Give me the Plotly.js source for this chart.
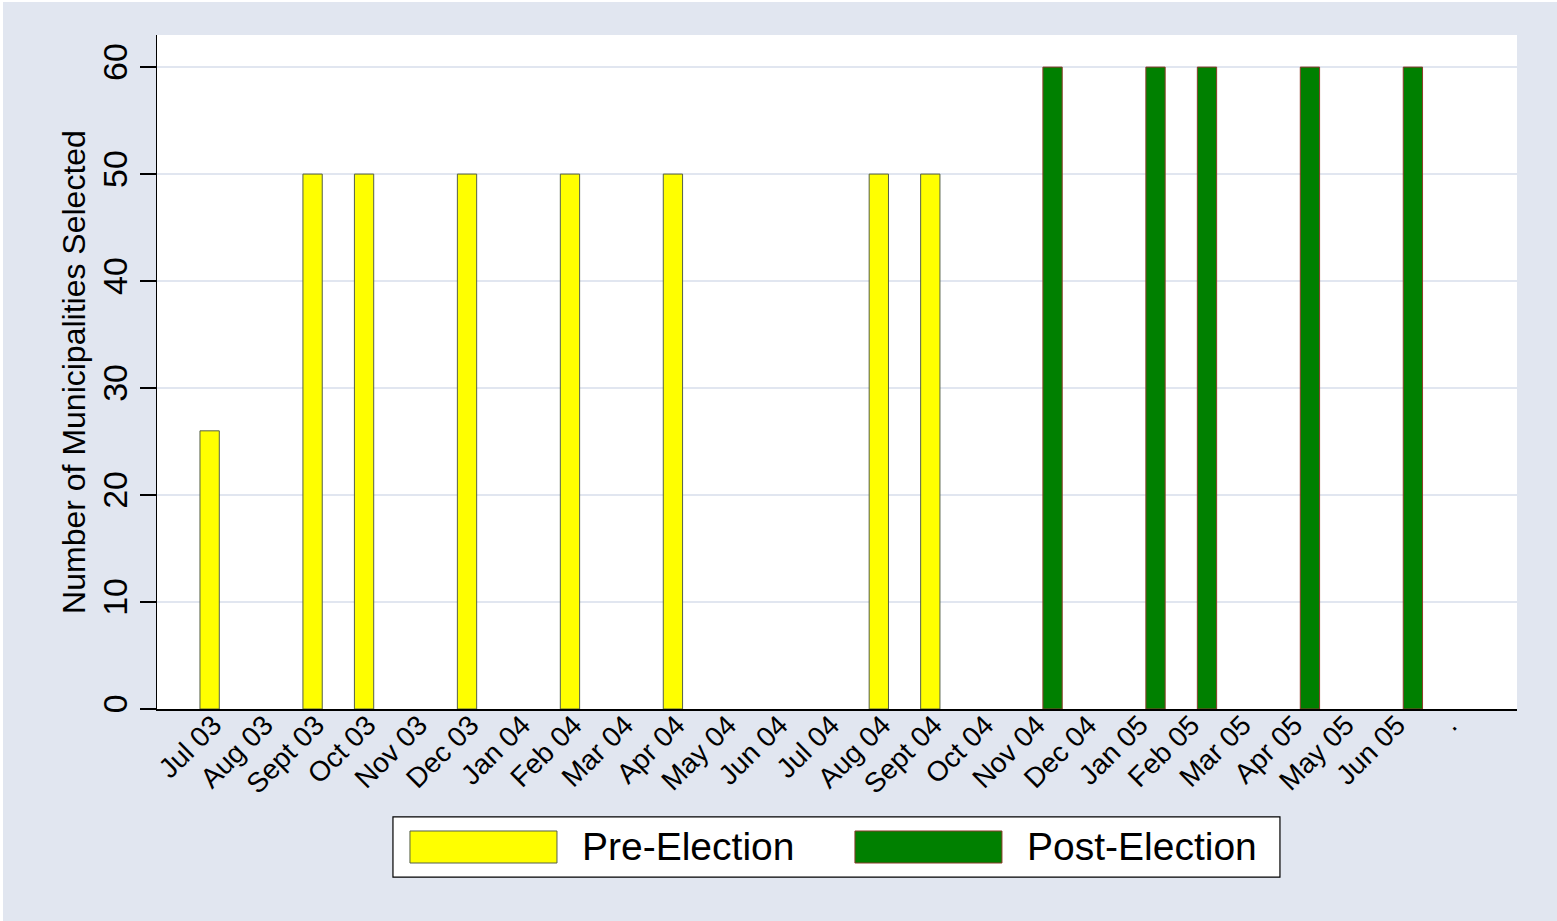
<!DOCTYPE html>
<html>
<head>
<meta charset="utf-8">
<script src="https://cdn.plot.ly/plotly-3.0.1.min.js"></script>
<style>
  html, body { margin: 0; padding: 0; background: #ffffff; width: 1557px; height: 921px; overflow: hidden; }
  #chart { position: absolute; left: 3px; top: 2px; width: 1554px; height: 919px; }
</style>
</head>
<body>
<div id="chart"></div>
<script>
// ---- data ----
const months = ["Jul 03","Aug 03","Sept 03","Oct 03","Nov 03","Dec 03","Jan 04","Feb 04","Mar 04","Apr 04",
                "May 04","Jun 04","Jul 04","Aug 04","Sept 04","Oct 04","Nov 04","Dec 04","Jan 05","Feb 05",
                "Mar 05","Apr 05","May 05","Jun 05","."];
const preElection  = [26, null, 50, 50, null, 50, null, 50, null, 50,
                      null, null, null, 50, 50, null, null, null, null, null,
                      null, null, null, null, null];
const postElection = [null, null, null, null, null, null, null, null, null, null,
                      null, null, null, null, null, null, 60, null, 60, 60,
                      null, 60, null, 60, null];
const seriesNames = ["Pre-Election", "Post-Election"];
const yTicks = [0, 10, 20, 30, 40, 50, 60];
const yTitle = "Number of Municipalities Selected";

const FONT = "Liberation Sans, Arial, Helvetica, sans-serif";
const BG = "#E1E6F0";

const traces = [
  { type: "bar", name: seriesNames[0], x: months, y: preElection,
    marker: { color: "#FFFF00", line: { color: "#55604A", width: 1 } }, showlegend: false },
  { type: "bar", name: seriesNames[1], x: months, y: postElection,
    marker: { color: "#008000", line: { color: "#8B3A2A", width: 1 } }, showlegend: false }
];

// legend drawn in paper coordinates
const legY0 = -0.2493, legY1 = -0.1602;
const swY0 = -0.2285, swY1 = -0.1810;
const shapes = [
  { type: "rect", xref: "paper", yref: "paper", x0: 0.1735, x1: 0.8257, y0: legY0, y1: legY1,
    fillcolor: "#ffffff", line: { color: "#000000", width: 1.2 } },
  { type: "rect", xref: "paper", yref: "paper", x0: 0.1860, x1: 0.2941, y0: swY0, y1: swY1,
    fillcolor: "#FFFF00", line: { color: "#55604A", width: 1 } },
  { type: "rect", xref: "paper", yref: "paper", x0: 0.5132, x1: 0.6213, y0: swY0, y1: swY1,
    fillcolor: "#008000", line: { color: "#8B3A2A", width: 1 } }
];
const annotations = [
  { xref: "paper", yref: "paper", x: 0.3110, y: -0.2047, xanchor: "left", yanchor: "middle",
    text: seriesNames[0], showarrow: false, font: { family: FONT, size: 39, color: "#000" } },
  { xref: "paper", yref: "paper", x: 0.6385, y: -0.2047, xanchor: "left", yanchor: "middle",
    text: seriesNames[1], showarrow: false, font: { family: FONT, size: 39, color: "#000" } }
];

const layout = {
  width: 1554, height: 919,
  paper_bgcolor: BG, plot_bgcolor: "#ffffff",
  margin: { l: 154, r: 40, t: 33, b: 212, pad: 0 },
  barmode: "group", bargap: 0.25, bargroupgap: 0,
  font: { family: FONT, color: "#000" },
  xaxis: {
    type: "category", range: [-1.21, 25.21],
    showline: true, linecolor: "#000", linewidth: 1.5,
    ticks: "", showgrid: false, zeroline: false,
    tickangle: -45, tickfont: { family: FONT, size: 28, color: "#000" },
    ticklabelshift: -6, ticklabelstandoff: -13,
    automargin: false
  },
  yaxis: {
    range: [0, 63], tickvals: yTicks, ticktext: yTicks.map(String),
    showline: true, linecolor: "#000", linewidth: 1.5,
    ticks: "outside", ticklen: 16, tickwidth: 1.5, tickcolor: "#000",
    ticklabelstandoff: -1,
    tickangle: -90, tickfont: { family: FONT, size: 34, color: "#000" },
    showgrid: true, gridcolor: BG, gridwidth: 2.5, zeroline: false,
    title: { text: yTitle, font: { family: FONT, size: 32, color: "#000" }, standoff: 0 },
    automargin: false
  },
  shapes: shapes,
  annotations: annotations,
  showlegend: false
};

Plotly.newPlot("chart", traces, layout, { displayModeBar: false, staticPlot: true });
</script>
</body>
</html>
